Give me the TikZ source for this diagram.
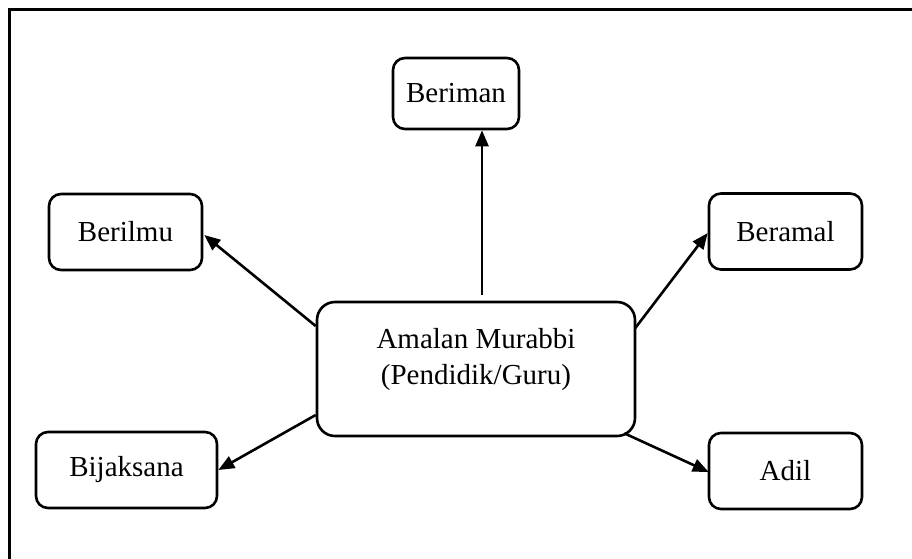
\documentclass[tikz,border=0pt]{standalone}
\usepackage{fontspec}
\setmainfont{Liberation Serif}
\usetikzlibrary{arrows.meta,calc}

\tikzset{
  trait/.style={draw, line width=2.6pt, rounded corners=12pt, minimum width=153pt,
    minimum height=76pt, inner sep=0pt, font=\fontsize{29}{36}\selectfont},
  corebox/.style={draw, line width=2.6pt, rounded corners=18pt, minimum width=318pt,
    minimum height=134pt, inner sep=0pt},
  coretext/.style={align=center, inner sep=0pt, font=\fontsize{29}{36}\selectfont},
  arr/.style={line width=2.6pt, -{Triangle[length=16pt,width=13pt]}},
  frame/.style={line width=3pt}
}

\begin{document}
\begin{tikzpicture}[x=1pt,y=-1pt]
  \useasboundingbox (0,0) rectangle (912,558);

  % outer frame (only top and left edges fall inside the page)
  \coordinate (fbl) at (9,560);
  \coordinate (ftl) at (9,9);
  \coordinate (ftr) at (914,9);
  \draw[frame] (fbl) -- (ftl) -- (ftr);

  % central box
  \node[corebox] (murabbi) at (476,369) {};
  \node[coretext] (murabbitext) at (476,360) {Amalan Murabbi\\(Pendidik/Guru)};

  % surrounding traits
  \node[trait, minimum width=126pt, minimum height=71pt] (beriman) at (456,93.5) {Beriman};
  \node[trait] (berilmu) at (125.5,232) {Berilmu};
  \node[trait] (beramal) at (785.5,231.5) {Beramal};
  \node[trait, minimum width=181pt] (bijaksana) at (126.5,470) {Bijaksana};
  \node[trait] (adil) at (785.5,471) {Adil};

  % connector start points on the central box
  \coordinate (sTop) at ($(murabbi.north)+(6,-6)$);
  \coordinate (sUL) at ($(murabbi.west)+(0,-43)$);
  \coordinate (sUR) at ($(murabbi.east)+(-1,-41)$);
  \coordinate (sLL) at ($(murabbi.west)+(0,46)$);
  \coordinate (sLR) at ($(murabbi.south east)+(-12,-4)$);

  \draw[arr] (sTop) -- (sTop |- beriman.south);
  \draw[arr] (sUL) -- ($(berilmu.east)+(1,3)$);
  \draw[arr] (sUR) -- ($(beramal.west)+(0,1.5)$);
  \draw[arr] (sLL) -- (bijaksana.east);
  \draw[arr] (sLR) -- ($(adil.west)+(1,1)$);
\end{tikzpicture}
\end{document}
